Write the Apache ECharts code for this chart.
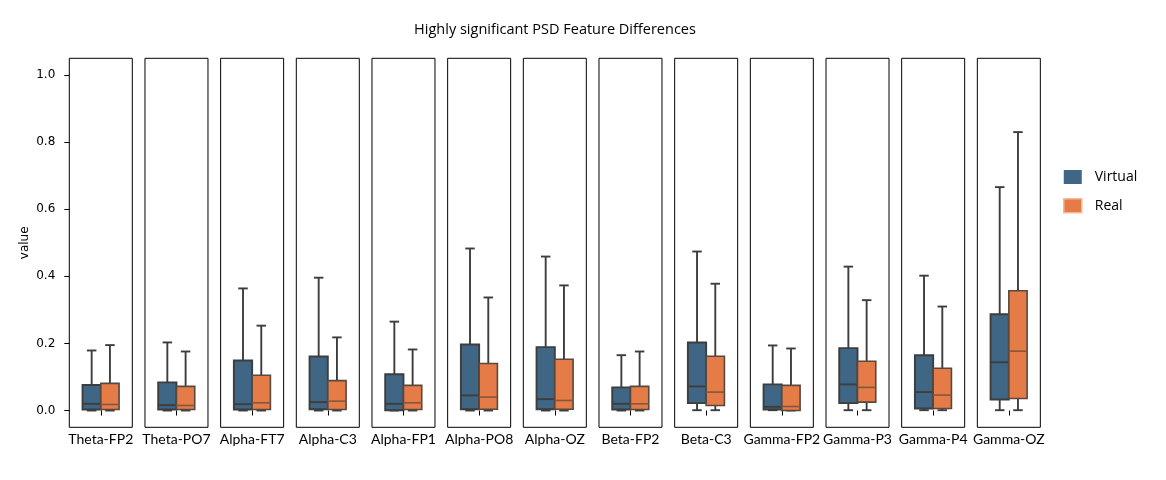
<!DOCTYPE html>
<html>
<head>
<meta charset="utf-8">
<script src="https://cdn.jsdelivr.net/npm/echarts@6/dist/echarts.min.js"></script>
<style>
  html, body { margin: 0; padding: 0; background: #ffffff; }
  #chart { width: 1166px; height: 480px; }
</style>
</head>
<body>
<div id="chart"></div>
<script>
// ---- Data ----
const categories = ['Theta-FP2', 'Theta-PO7', 'Alpha-FT7', 'Alpha-C3', 'Alpha-FP1', 'Alpha-PO8',
  'Alpha-OZ', 'Beta-FP2', 'Beta-C3', 'Gamma-FP2', 'Gamma-P3', 'Gamma-P4', 'Gamma-OZ'];
const seriesNames = ['Virtual', 'Real'];
// each entry: [min, Q1, median, Q3, max]
const virtualBoxes = [
  [0.000, 0.003, 0.020, 0.076, 0.179],
  [0.000, 0.003, 0.016, 0.084, 0.203],
  [0.000, 0.003, 0.019, 0.149, 0.364],
  [0.000, 0.004, 0.025, 0.161, 0.396],
  [0.000, 0.001, 0.020, 0.108, 0.265],
  [0.000, 0.004, 0.045, 0.197, 0.483],
  [0.000, 0.004, 0.034, 0.189, 0.459],
  [0.000, 0.003, 0.020, 0.069, 0.165],
  [0.001, 0.022, 0.072, 0.203, 0.474],
  [0.001, 0.003, 0.011, 0.078, 0.194],
  [0.001, 0.022, 0.078, 0.186, 0.429],
  [0.001, 0.006, 0.055, 0.165, 0.402],
  [0.001, 0.033, 0.144, 0.287, 0.666]
];
const realBoxes = [
  [0.000, 0.003, 0.018, 0.081, 0.195],
  [0.000, 0.003, 0.015, 0.072, 0.176],
  [0.000, 0.003, 0.023, 0.105, 0.253],
  [0.000, 0.003, 0.028, 0.089, 0.218],
  [0.000, 0.003, 0.023, 0.075, 0.182],
  [0.000, 0.004, 0.040, 0.140, 0.337],
  [0.000, 0.004, 0.030, 0.153, 0.373],
  [0.000, 0.003, 0.020, 0.072, 0.176],
  [0.001, 0.015, 0.055, 0.162, 0.378],
  [0.000, 0.000, 0.012, 0.075, 0.185],
  [0.001, 0.025, 0.069, 0.147, 0.329],
  [0.001, 0.006, 0.046, 0.126, 0.310],
  [0.001, 0.036, 0.177, 0.357, 0.830]
];
const yTickValues = [0, 0.2, 0.4, 0.6, 0.8, 1.0];

// ---- Styling / layout ----
const COLORS = { Virtual: '#3f6685', Real: '#e57c48' };
const LINE = '#3d3d3d';
const PANEL_LEFT = 69.3, PANEL_STEP = 75.67, PANEL_W = 63, PANEL_TOP = 58.3, PANEL_H = 369;
const BOX_FRAC = 0.29;

function makeRender(side, name) {
  return function (params, api) {
    const x = api.value(0);
    const band = api.size([1, 0])[0];
    const bw = band * BOX_FRAC;
    const center = api.coord([x, api.value(3)]);
    const cx = center[0] + side * bw / 2;
    const yMin = api.coord([x, api.value(1)])[1];
    const yQ1 = api.coord([x, api.value(2)])[1];
    const yMed = center[1];
    const yQ3 = api.coord([x, api.value(4)])[1];
    const yMax = api.coord([x, api.value(5)])[1];
    const capHalf = bw * 0.26;
    const lw = 1.9;
    const isReal = name === 'Real';
    const boxStroke = isReal ? '#574840' : LINE;
    const medStroke = isReal ? '#85563b' : LINE;
    return {
      type: 'group',
      children: [
        { type: 'line', shape: { x1: cx, y1: yQ3, x2: cx, y2: yMax }, style: { stroke: LINE, lineWidth: lw } },
        { type: 'line', shape: { x1: cx, y1: yMin, x2: cx, y2: yQ1 }, style: { stroke: LINE, lineWidth: lw } },
        { type: 'line', shape: { x1: cx - capHalf, y1: yMax, x2: cx + capHalf, y2: yMax }, style: { stroke: LINE, lineWidth: lw } },
        { type: 'line', shape: { x1: cx - capHalf, y1: yMin, x2: cx + capHalf, y2: yMin }, style: { stroke: LINE, lineWidth: lw } },
        { type: 'rect', shape: { x: cx - bw / 2, y: yQ3, width: bw, height: yQ1 - yQ3 },
          style: { fill: COLORS[name], stroke: boxStroke, lineWidth: isReal ? 1.6 : 1.9 } },
        { type: 'line', shape: { x1: cx - bw / 2, y1: yMed, x2: cx + bw / 2, y2: yMed },
          style: { stroke: medStroke, lineWidth: isReal ? 1.6 : 1.9 } }
      ]
    };
  };
}

const grids = [], xAxes = [], yAxes = [], series = [];
categories.forEach(function (cat, i) {
  grids.push({
    left: PANEL_LEFT + i * PANEL_STEP, top: PANEL_TOP, width: PANEL_W, height: PANEL_H,
    show: true, borderColor: '#000', borderWidth: 1, backgroundColor: '#fff',
    containLabel: false, outerBoundsMode: 'none'
  });
  xAxes.push({
    type: 'category', gridIndex: i, data: [cat],
    axisLine: { show: false },
    axisTick: { show: true, alignWithLabel: true, length: 5, lineStyle: { color: '#000', width: 1 } },
    axisLabel: { color: '#000', fontFamily: 'Lato', fontSize: 14, margin: 5, interval: 0 },
    splitLine: { show: false }
  });
  yAxes.push({
    type: 'value', gridIndex: i, min: -0.05, max: 1.05,
    name: i === 0 ? 'value' : '',
    nameLocation: 'middle', nameGap: 38, nameRotate: 90,
    nameTextStyle: { color: '#000', fontFamily: 'DejaVu Sans', fontSize: 12 },
    axisLine: { show: false },
    axisTick: { show: i === 0, length: 5, customValues: yTickValues, lineStyle: { color: '#000', width: 1 } },
    axisLabel: { show: i === 0, customValues: yTickValues, color: '#000', fontFamily: 'DejaVu Sans', fontSize: 12,
      margin: 14, formatter: function (v) { return Number(v).toFixed(1); } },
    splitLine: { show: false }
  });
  [['Virtual', virtualBoxes, -1], ['Real', realBoxes, 1]].forEach(function (s) {
    const b = s[1][i];
    series.push({
      type: 'custom', name: s[0], xAxisIndex: i, yAxisIndex: i,
      itemStyle: { color: COLORS[s[0]] },
      renderItem: makeRender(s[2], s[0]),
      encode: { x: 0, y: [1, 2, 3, 4, 5] },
      data: [[0, b[0], b[1], b[2], b[3], b[4]]],
      animation: false
    });
  });
});

const chart = echarts.init(document.getElementById('chart'), null, { renderer: 'canvas' });
chart.setOption({
  backgroundColor: '#ffffff',
  animation: false,
  title: {
    text: 'Highly significant PSD Feature Differences',
    left: 555, top: 22, textAlign: 'center', padding: 0,
    textStyle: { color: '#000', fontFamily: 'Open Sans', fontSize: 14.5, fontWeight: 'normal' }
  },
  legend: {
    orient: 'vertical', left: 1063, top: 170, padding: 0,
    itemWidth: 18, itemHeight: 14, itemGap: 14, icon: 'rect',
    data: [
      { name: 'Virtual', itemStyle: { color: COLORS.Virtual } },
      { name: 'Real', itemStyle: { color: COLORS.Real, borderColor: '#f5b998', borderWidth: 1.5 } }
    ],
    textStyle: { color: '#000', fontFamily: 'Open Sans', fontSize: 14, padding: [0, 0, 0, 8] }
  },
  grid: grids,
  xAxis: xAxes,
  yAxis: yAxes,
  series: series
});
</script>
</body>
</html>
